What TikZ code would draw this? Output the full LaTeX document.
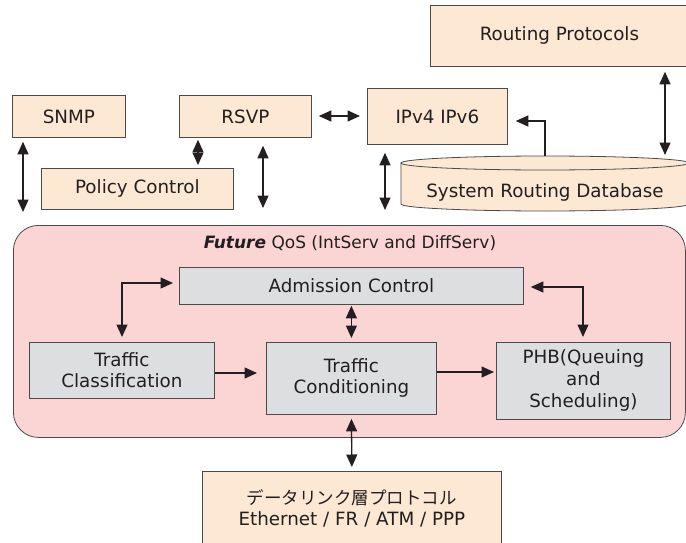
\documentclass[tikz,border=0pt]{standalone}
\usepackage{fontspec}
\setmainfont{DejaVu Sans}
\newfontfamily\jpfont{Noto Sans CJK JP}
\usetikzlibrary{arrows.meta}
\definecolor{peach}{HTML}{FDE8D3}
\definecolor{pinkc}{HTML}{FBD4D4}
\definecolor{grayc}{HTML}{DDDEDF}
\definecolor{bordc}{HTML}{4A4A4A}
\definecolor{arrc}{HTML}{231F20}
\begin{document}
\begin{tikzpicture}[x=1pt,y=-1pt,
  every node/.style={font=\fontsize{18.3}{21}\selectfont, inner sep=0pt, text=arrc},
  pbox/.style={draw=bordc, fill=peach, line width=0.8pt, anchor=north west, align=center},
  gbox/.style={draw=bordc, fill=grayc, line width=0.8pt, anchor=north west, align=center},
  dbl/.style={{Triangle[length=12.5pt,width=11pt]}-{Triangle[length=12.5pt,width=11pt]}, line width=1.3pt, draw=arrc},
  sgl/.style={-{Triangle[length=12.5pt,width=11pt]}, line width=1.3pt, draw=arrc}]
\useasboundingbox (0,0) rectangle (686,543);
% top boxes
\node[pbox, minimum width=258pt, minimum height=61pt] (rp) at (430,5) {Routing Protocols};
\node[pbox, minimum width=140pt, minimum height=56pt] (ip) at (367,88) {IPv4 IPv6};
\node[pbox, minimum width=113pt, minimum height=42pt] (snmp) at (12,95) {SNMP};
\node[pbox, minimum width=132pt, minimum height=42pt] (rsvp) at (179,95) {RSVP};
\node[pbox, minimum width=192pt, minimum height=41pt] (pc) at (41,168) {Policy Control};
% cylinder
\path[fill=peach, draw=bordc, line width=0.8pt] (401,163) -- (401,204) arc[start angle=180, end angle=360, x radius=144pt, y radius=7pt] -- (689,163);
\draw[fill=peach, draw=bordc, line width=0.8pt] (545,163) ellipse [x radius=144pt, y radius=7pt];
\node (db) at (545,192) {System Routing Database};
\coordinate (dbtop) at (545,156);
\coordinate (dbtopr) at (665,159);
% QoS area
\node[draw=bordc, fill=pinkc, line width=0.8pt, rounded corners=25pt, anchor=north west, minimum width=672pt, minimum height=212pt] (qos) at (13,225) {};
\node[font=\fontsize{17}{20}\selectfont] (title) at (350,243) {\textbf{\textit{Future}} QoS (IntServ and DiffServ)};
\node[gbox, minimum width=344pt, minimum height=37pt] (adm) at (179,267) {Admission Control};
\node[gbox, minimum width=185pt, minimum height=56pt] (tc) at (29,342) {Traffic\\Classification};
\node[gbox, minimum width=170pt, minimum height=72pt] (cond) at (266,342) {Traffic\\Conditioning};
\node[gbox, minimum width=174pt, minimum height=77pt, font=\fontsize{18.3}{22}\selectfont] (phb) at (496,342) {PHB(Queuing\\and\\Scheduling)};
% data link
\node[pbox, minimum width=299pt, minimum height=73pt] (dl) at (202,471) {{\jpfont\fontsize{17.5}{21}\selectfont データリンク層プロトコル}\\Ethernet / FR / ATM / PPP};
% connectors
\coordinate (xs) at (23,0);
\draw[dbl, shorten <=4pt, shorten >=13pt] (xs |- snmp.south) -- (xs |- qos.north);
\coordinate (xr1) at (198,0);
\draw[dbl, shorten <=2pt, shorten >=3pt] (xr1 |- rsvp.south) -- (xr1 |- pc.north);
\coordinate (xr2) at (263,0);
\draw[dbl, shorten <=8pt, shorten >=17pt] (xr2 |- rsvp.south) -- (xr2 |- qos.north);
\coordinate (yri) at (0,116);
\draw[dbl, shorten <=7pt, shorten >=7pt] (rsvp.east |- yri) -- (ip.west |- yri);
\coordinate (xi) at (385,0);
\draw[dbl, shorten <=8pt, shorten >=15pt] (xi |- ip.south) -- (xi |- qos.north);
\coordinate (yd) at (0,121);
\draw[sgl, shorten >=8pt] (dbtop) -- (dbtop |- yd) -- (ip.east |- yd);
\draw[dbl, shorten <=5pt, shorten >=4pt] (rp.south -| dbtopr) -- (dbtopr);
\coordinate (ca) at (122,283);
\draw[dbl, shorten <=5pt, shorten >=6pt] (ca |- tc.north) -- (ca) -- (adm.west |- ca);
\draw[dbl, shorten <=1pt, shorten >=4pt] (adm.south) -- (cond.north);
\coordinate (cb) at (583,287);
\draw[dbl, shorten <=7pt, shorten >=5pt] (adm.east |- cb) -- (cb) -- (cb |- phb.north);
\coordinate (yt) at (0,373);
\draw[sgl, shorten >=9pt] (tc.east |- yt) -- (cond.west |- yt);
\coordinate (yp) at (0,372);
\draw[sgl, shorten >=2pt] (cond.east |- yp) -- (phb.west |- yp);
\draw[dbl, shorten <=4pt, shorten >=4pt] (cond.south) -- (dl.north);
\end{tikzpicture}
\end{document}
